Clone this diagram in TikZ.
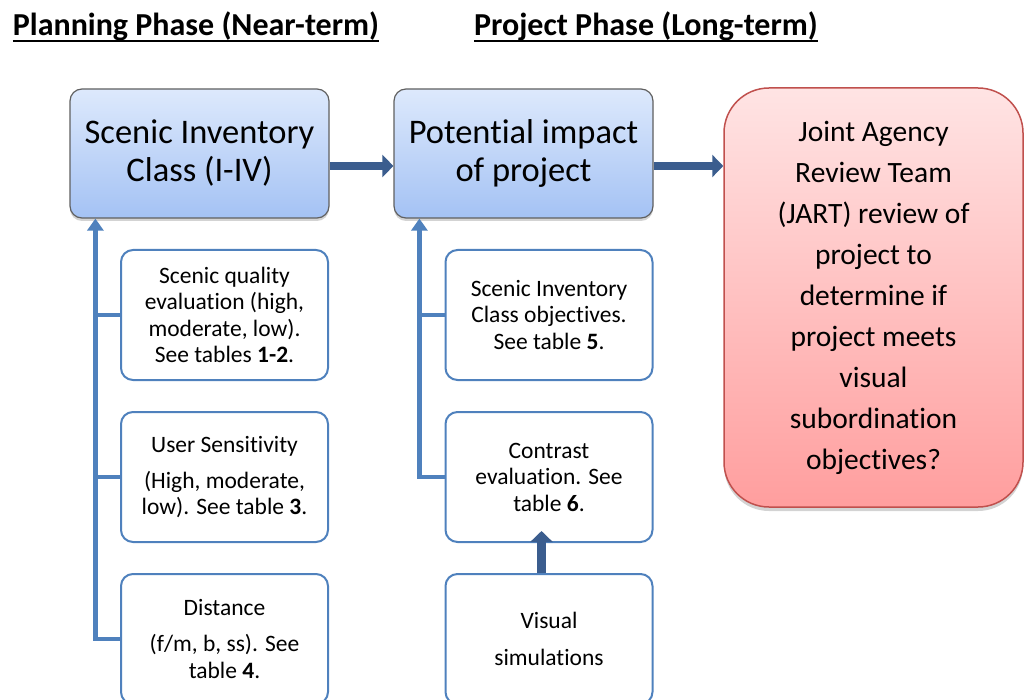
\documentclass[tikz,border=0pt]{standalone}
\usepackage{fontspec}
\setmainfont{Carlito}[Ligatures=NoCommon]
\usetikzlibrary{arrows.meta,shadows,calc}

\definecolor{steel}{HTML}{4F81BD}
\definecolor{navyarrow}{HTML}{3B5D8E}
\definecolor{topblue}{HTML}{DDE9FC}
\definecolor{botblue}{HTML}{A4C2F4}
\definecolor{toppink}{HTML}{FFE4E4}
\definecolor{botpink}{HTML}{FF9E9E}
\definecolor{redline}{HTML}{C0504D}

\newcommand\phaseul[1]{\leavevmode\vtop{\hbox{#1}\kern-1pt\hrule height 2pt}}

\tikzset{
	phase/.style={font=\fontsize{32}{36}\selectfont\bfseries, inner sep=0pt, anchor=base},
	stagebox/.style={rounded corners=12pt, draw=gray!75!black, line width=1.2pt,
		top color=topblue, bottom color=botblue, minimum width=259pt, minimum height=129pt,
		drop shadow={opacity=0.35, shadow xshift=0pt, shadow yshift=-3pt},
		font=\fontsize{34.5}{38}\selectfont, align=center, inner sep=0pt},
	factorbox/.style={rounded corners=12pt, draw=steel, line width=2pt, fill=white,
		minimum width=207pt, minimum height=130pt,
		font=\fontsize{23.5}{26.5}\selectfont, align=center, inner sep=0pt},
	reviewbox/.style={rounded corners=45pt, draw=redline, line width=1.5pt,
		top color=toppink, bottom color=botpink, minimum width=299pt, minimum height=419pt,
		drop shadow={opacity=0.35, shadow xshift=0pt, shadow yshift=-4pt},
		font=\fontsize{29.5}{41}\selectfont, align=center, inner sep=0pt},
	flow/.style={draw=navyarrow, line width=8.5pt, -{Triangle[length=11pt,width=22pt]}},
	feed/.style={draw=steel, line width=4.5pt},
	feedin/.style={feed, -{Triangle[length=12pt,width=16pt]}},
}

\begin{document}
\begin{tikzpicture}[x=1pt,y=-1pt]
	\useasboundingbox (0,0) rectangle (1025,700);
	
	% headings
	\node[phase] (hdplan) at (196,36) {\phaseul{Planning Phase (Near-term)}};
	\node[phase] (hdproj) at (646,36) {\phaseul{Project Phase (Long-term)}};
	
	% main stages
	\node[stagebox] (sic) at (199.5,153.5) {Scenic Inventory\\Class (I-IV)};
	\node[stagebox] (pip) at (523.5,153.5) {Potential impact\\of project};
	\node[reviewbox] (jart) at (873.5,297.5) {Joint Agency\\Review Team\\(JART) review of\\project to\\determine if\\project meets\\visual\\subordination\\objectives?};
	
	% inputs, near-term
	\node[factorbox] (sqe) at (224.5,315) {Scenic quality\\evaluation (high,\\moderate, low).\\See tables \textbf{1-2}.};
	\node[factorbox] (usr) at (224.5,477) {User Sensitivity\\[9.5pt](High, moderate,\\low). See table \textbf{3}.};
	\node[factorbox] (dist) at (224.5,639) {Distance\\[9.5pt](f/m, b, ss). See\\table \textbf{4}.};
	
	% inputs, long-term
	\node[factorbox] (sio) at (549,315) {Scenic Inventory\\Class objectives.\\See table \textbf{5}.};
	\node[factorbox] (ctr) at (549,477) {Contrast\\evaluation. See\\table \textbf{6}.};
	\node[factorbox] (vis) at (549,639) {Visual\\[10pt]simulations};
	
	% flow between stages
	\draw[flow] ([yshift=-12.5pt]sic.east) -- ([yshift=-12.5pt]pip.west);
	\draw[flow] ([yshift=-12.5pt]pip.east) -- ([yshift=-12.5pt]jart.west |- pip.east);
	\draw[flow] ([xshift=-7.5pt]vis.north) -- ([xshift=-7.5pt,yshift=12pt]ctr.south);
	
	% feeder lines
	\coordinate (lspine) at ([xshift=26pt]sic.south west);
	\coordinate (mspine) at ([xshift=26pt]pip.south west);
	\draw[feedin] (dist.west) -| (lspine);
	\draw[feed] (sqe.west) -- (sqe.west -| lspine);
	\draw[feed] (usr.west) -- (usr.west -| lspine);
	\draw[feedin] (ctr.west) -| (mspine);
	\draw[feed] (sio.west) -- (sio.west -| mspine);
\end{tikzpicture}
\end{document}
